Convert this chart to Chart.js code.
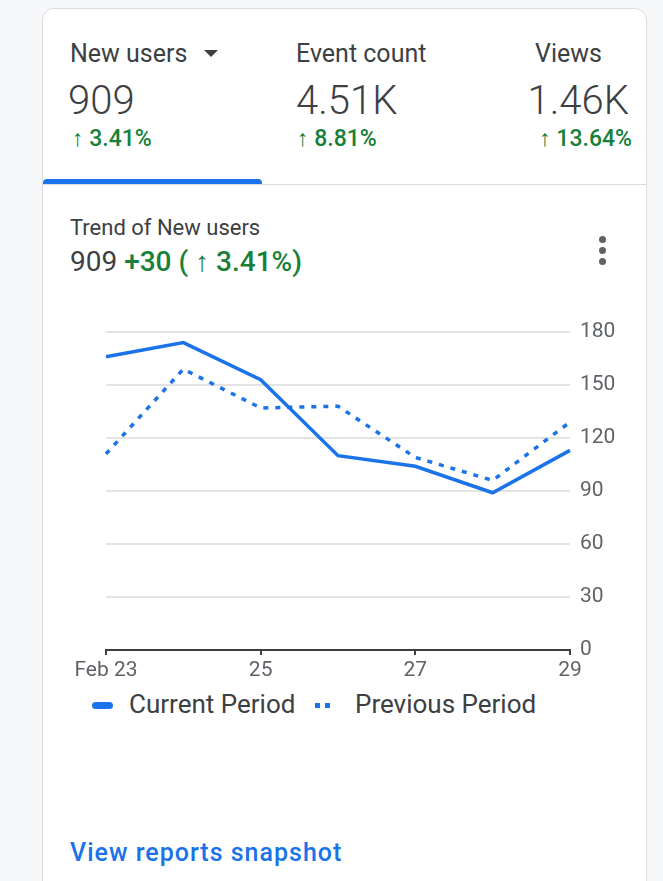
<!DOCTYPE html>
<html><head><meta charset="utf-8">
<script src="https://cdn.jsdelivr.net/npm/chart.js@4/dist/chart.umd.min.js"></script>
<style>
html,body{margin:0;padding:0;background:#f6f7f8;width:663px;height:881px;overflow:hidden;font-family:Roboto,sans-serif;}
.card{position:absolute;left:42px;top:8px;width:605px;height:900px;background:#fff;border:1px solid #dadce0;border-radius:12px;box-sizing:border-box;}
.t{position:absolute;white-space:nowrap;}
.lbl{font-size:25px;color:#3c4043;top:39px;}
.val{font-size:40px;font-weight:300;color:#3c4043;top:77px;}
.pct{font-size:23px;font-weight:500;color:#188038;top:125px;}
.ind{position:absolute;left:43px;top:179px;width:219px;height:6px;background:#1a73e8;border-radius:4px 4px 0 0;}
.div{position:absolute;left:43px;top:184px;width:603px;height:1px;background:#dadce0;}
#wrap{position:absolute;left:0;top:300px;width:663px;height:381px;}
.dot{position:absolute;left:599px;width:7px;height:7px;border-radius:50%;background:#5f6368;}
.leg{position:absolute;top:689px;font-size:26px;color:#3c4043;}
.tri{position:absolute;left:204px;top:50px;width:0;height:0;border-left:7px solid transparent;border-right:7px solid transparent;border-top:7px solid #3c4043;}
</style></head>
<body>
<div class="card"></div>
<div class="t lbl" style="left:70px">New users</div>
<div class="tri"></div>
<div class="t lbl" style="left:296px">Event count</div>
<div class="t lbl" style="left:535px">Views</div>
<div class="t val" style="left:68px">909</div>
<div class="t val" style="left:296px">4.51K</div>
<div class="t val" style="right:34px">1.46K</div>
<div class="t pct" style="left:72px">↑ 3.41%</div>
<div class="t pct" style="left:297px">↑ 8.81%</div>
<div class="t pct" style="right:31px">↑ 13.64%</div>
<div class="ind"></div>
<div class="div"></div>
<div class="t" style="left:70px;top:215px;font-size:22px;color:#3c4043">Trend of New users</div>
<div class="t" style="left:70px;top:245px;font-size:28px;color:#3c4043">909 <span style="color:#188038;font-weight:500">+30 ( ↑ 3.41%)</span></div>
<div class="dot" style="top:236px"></div>
<div class="dot" style="top:247px"></div>
<div class="dot" style="top:258px"></div>
<div id="wrap"><canvas id="c"></canvas></div>
<div style="position:absolute;left:92px;top:702px;width:21px;height:7px;border-radius:4px;background:#1a73e8"></div>
<div class="t leg" style="left:129px">Current Period</div>
<div style="position:absolute;left:315px;top:703px;width:5px;height:5px;background:#1a73e8"></div>
<div style="position:absolute;left:325px;top:703px;width:5px;height:5px;background:#1a73e8"></div>
<div class="t leg" style="left:355px">Previous Period</div>
<div class="t" style="left:70px;top:838px;font-size:25px;letter-spacing:1px;color:#1a73e8;font-weight:500">View reports snapshot</div>
<script>
const categories = ['Feb 23','Feb 24','Feb 25','Feb 26','Feb 27','Feb 28','Feb 29'];
const tickLabels = ['Feb 23','','25','','27','','29'];
const currentPeriod = [166,174,153,110,104,89,113];
const previousPeriod = [111,159,137,138,109,96,129];
const yTicks = [0,30,60,90,120,150,180];

new Chart(document.getElementById('c'), {
  type:'line',
  data:{labels:categories,datasets:[
    {label:'Current Period',data:currentPeriod,borderColor:'#1a73e8',borderWidth:3.5,pointRadius:0,tension:0,fill:false,borderJoinStyle:'miter'},
    {label:'Previous Period',data:previousPeriod,borderColor:'#1a73e8',borderWidth:3.5,borderDash:[5,7],pointRadius:0,tension:0,fill:false}
  ]},
  options:{
    responsive:true,maintainAspectRatio:false,animation:false,
    layout:{padding:{left:106,right:23,top:32,bottom:1}},
    plugins:{legend:{display:false},tooltip:{enabled:false}},
    scales:{
      x:{
        offset:false,
        afterFit:(s)=>{s.height=30;},
        grid:{drawOnChartArea:false,drawTicks:true,tickLength:5,lineWidth:2,color:(ctx)=>ctx.index%2===0?'#3c4043':'rgba(0,0,0,0)'},
        border:{display:true,color:'#3c4043',width:2},
        ticks:{autoSkip:false,maxRotation:0,padding:3,color:'#5f6368',font:{family:'Roboto',size:21},callback:(v,i)=>tickLabels[i]}
      },
      y:{
        position:'right',min:0,max:180,
        afterFit:(s)=>{s.width=70;},
        afterBuildTicks:(s)=>{s.ticks=yTicks.map(v=>({value:v}));},
        grid:{drawTicks:false,color:'#e3e3e3',lineWidth:2},
        border:{display:false},
        ticks:{padding:10,color:'#5f6368',font:{family:'Roboto',size:21}}
      }
    }
  }
});
</script>
</body></html>
